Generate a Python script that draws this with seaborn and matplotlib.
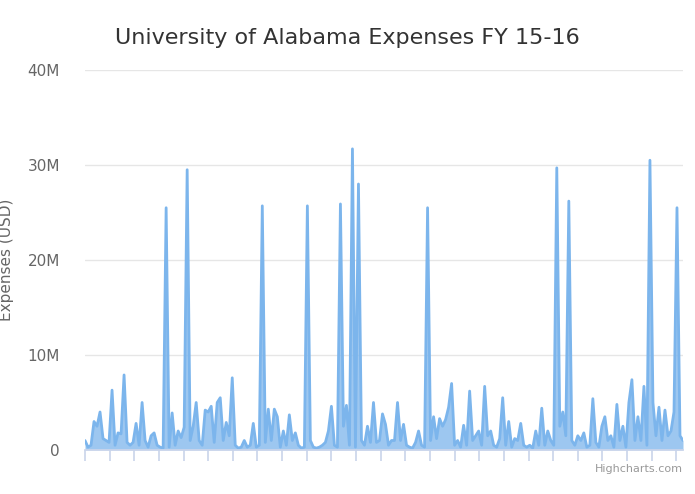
import matplotlib
matplotlib.use("Agg")
import matplotlib.pyplot as plt
import seaborn as sns
import numpy as np
import pandas as pd

expenses_m = [
 1.0,0.3,0.5,3.0,2.5,4.0,1.2,1.0,0.8,6.3,
 0.5,1.8,1.7,7.9,0.8,0.5,0.8,2.8,0.5,5.0,
 1.0,0.3,1.5,1.8,0.5,0.3,0.2,25.5,0.3,3.9,
 0.5,2.0,1.3,2.4,29.5,1.0,2.5,5.0,1.0,0.5,
 4.2,4.0,4.6,0.8,5.0,5.5,1.0,2.9,1.5,7.6,
 0.5,0.2,0.3,1.0,0.3,0.5,2.8,0.3,0.5,25.7,
 0.8,4.3,1.0,4.3,3.5,0.3,2.0,0.5,3.7,1.0,
 1.8,0.5,0.2,0.3,25.7,1.0,0.3,0.2,0.3,0.5,
 0.8,2.0,4.6,0.5,0.3,25.9,2.5,4.7,0.5,31.7,
 0.3,28.0,1.0,0.5,2.5,0.8,5.0,0.8,1.0,3.8,
 2.7,0.5,1.0,1.0,5.0,1.0,2.7,0.5,0.3,0.2,
 0.8,2.0,0.5,0.3,25.5,1.0,3.5,1.2,3.3,2.5,
 3.2,4.5,7.0,0.5,1.0,0.3,2.6,0.5,6.2,1.0,
 1.5,2.0,0.5,6.7,1.5,2.0,0.5,0.3,1.2,5.5,
 0.5,3.0,0.3,1.2,1.0,2.8,0.5,0.3,0.5,0.2,
 2.0,0.5,4.4,0.5,2.0,1.0,0.5,29.7,2.5,4.0,
 1.5,26.2,1.0,0.5,1.5,1.0,1.8,0.3,0.5,5.4,
 0.8,0.3,2.5,3.5,1.0,1.5,0.3,4.8,1.0,2.5,
 0.3,5.0,7.4,1.0,3.5,1.0,6.7,0.5,30.5,5.0,
 1.5,4.5,1.0,4.2,1.5,2.0,4.0,25.5,1.5,1.0,
]
y_ticks = [0, 10, 20, 30, 40]
y_labels = ["0", "10M", "20M", "30M", "40M"]

df = pd.DataFrame({"idx": np.arange(len(expenses_m)), "val": np.array(expenses_m) * 1e6})

sns.set_theme(style="white")
fig = plt.figure(figsize=(6.95, 4.94), dpi=100)
ax = fig.add_axes([85/695, 44/494, 598/695, 380/494])
color = "#7cb5ec"
sns.lineplot(data=df, x="idx", y="val", ax=ax, color=color, linewidth=2)
ax.fill_between(df["idx"], df["val"], color=color, alpha=0.75, linewidth=0)
ax.set_xlim(0, len(expenses_m) - 1)
ax.set_ylim(0, 40e6)
ax.set_yticks([v * 1e6 for v in y_ticks])
ax.set_yticklabels(y_labels, color="#666666", fontsize=11)
ax.yaxis.grid(True, color="#e6e6e6", linewidth=1)
ax.set_xticks(np.arange(0, len(expenses_m), 8.2))
ax.set_xticklabels([])
ax.tick_params(axis="x", length=8, color="#ccd6eb", direction="out", bottom=True)
ax.tick_params(axis="y", length=0, pad=18)
for s in ["top", "right", "left"]:
    ax.spines[s].set_visible(False)
ax.spines["bottom"].set_color("#ccd6eb")
ax.set_xlabel("")
ax.set_ylabel("Expenses (USD)", color="#666666", fontsize=11, labelpad=10)
fig.text(0.5, 1 - 38/494, "University of Alabama Expenses FY 15-16", ha="center", va="center",
         fontsize=16, color="#333333")
fig.text(683/695, 1 - 469/494, "Highcharts.com", ha="right", va="center", fontsize=8, color="#999999")
fig.savefig("out.png", dpi=100)
